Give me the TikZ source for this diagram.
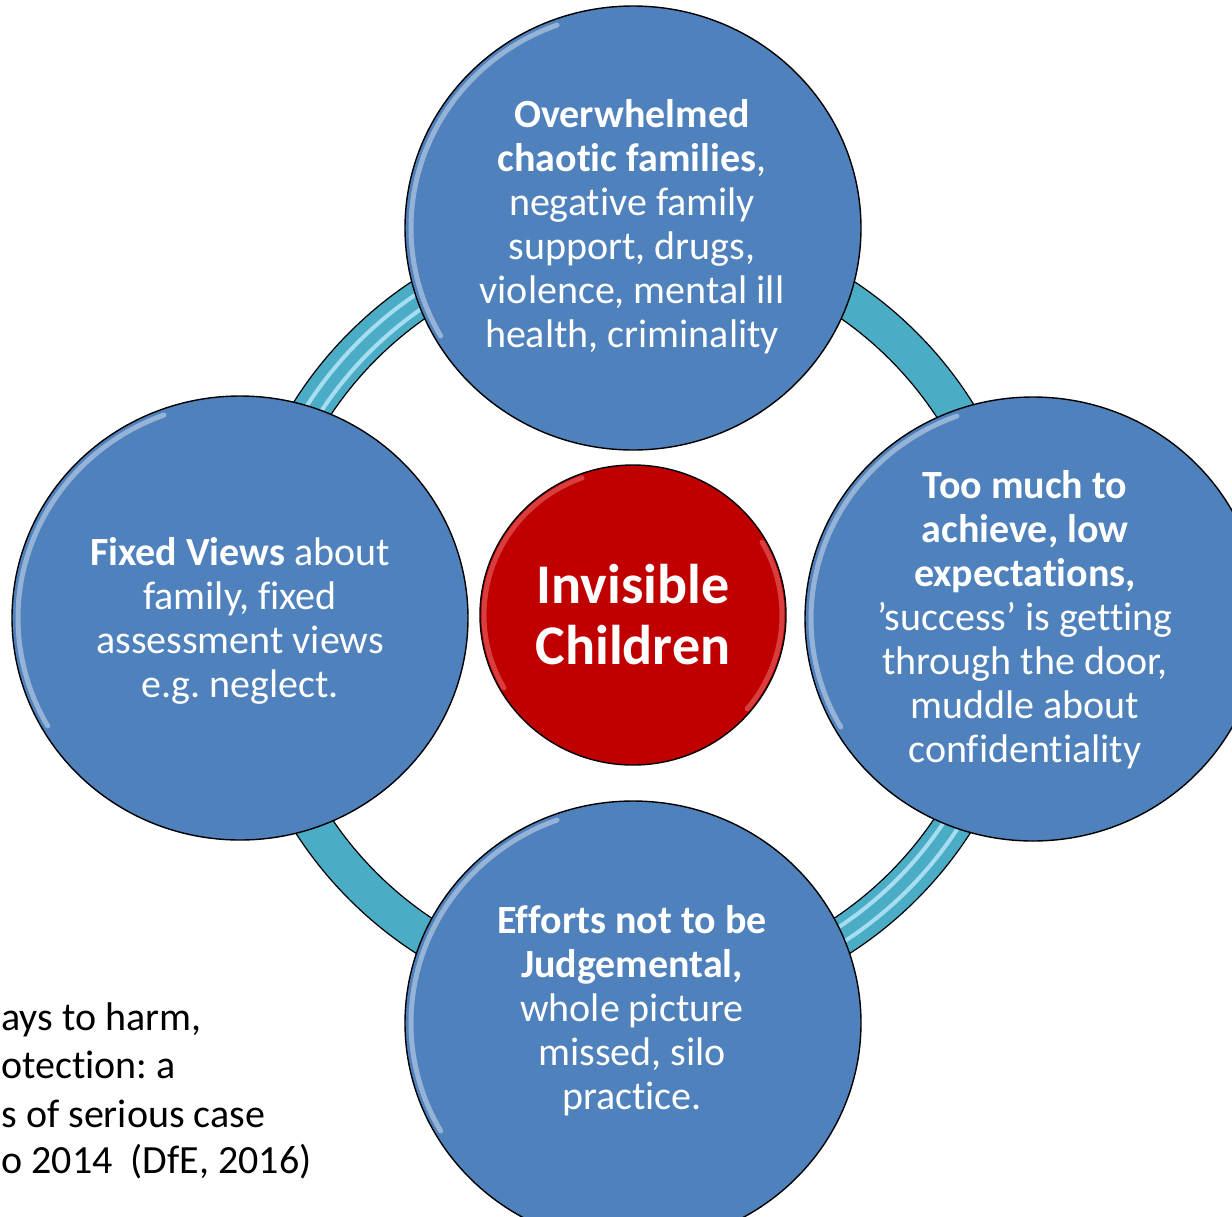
\documentclass[tikz,border=0pt]{standalone}
\usepackage{fontspec}
\setmainfont{Carlito}[Ligatures=CommonOff]
\usetikzlibrary{shapes.geometric}
\definecolor{bubbleblue}{HTML}{4F81BD}
\definecolor{ringteal}{HTML}{4BACC6}
\definecolor{corered}{HTML}{C00000}
\frenchspacing

\begin{document}
\begin{tikzpicture}[x=0.5pt,y=-0.5pt,
		bubble/.style={ellipse,draw=black,line width=0.7pt,fill=bubbleblue,
			minimum width=228pt,minimum height=222pt,inner sep=0pt},
		core/.style={ellipse,draw=black,line width=0.7pt,fill=corered,
			minimum width=153pt,minimum height=150pt,inner sep=0pt},
		bubbletext/.style={text=white,align=center,inner sep=0pt,anchor=north,
			font=\fontsize{20}{22}\selectfont},
		ring/.style={fill=ringteal,draw=black,line width=0.6pt,even odd rule},
		ringshine/.style={draw=cyan!25!white,line width=2pt,opacity=0.8},
		gloss/.style={draw=white,line width=2.5pt,opacity=0.4,line cap=round},
		source/.style={anchor=base west,inner sep=0pt,font=\fontsize{20}{24}\selectfont}]
	\useasboundingbox (0,0) rectangle (1232,1216);
	\clip (0,0) rectangle (1232,1216);
	\fill[white] (0,0) rectangle (1232,1216);
	
	% ring behind the bubbles
	\coordinate (hub) at (633,616);
	\draw[ring] (hub) circle[radius=401] (hub) circle[radius=363];
	\foreach \r in {373, 388}{
		\draw[ringshine] (hub) ++(195:\r) arc[start angle=195,end angle=255,radius=\r];
		\draw[ringshine] (hub) ++(15:\r) arc[start angle=15,end angle=75,radius=\r];
	}
	
	% bubbles
	\node[bubble] (overwhelmed) at (633,228){};
	\node[bubble] (fixedviews) at (240,618){};
	\node[bubble] (toomuch) at (1033,619){};
	\node[bubble] (efforts) at (633,1023){};
	\node[core] (invisible) at (633,615){};
	
	\foreach \n in {overwhelmed, fixedviews, toomuch, efforts}{
		\draw[gloss,shift={(\n.center)}] (150:222 and 216) arc[start angle=150,end angle=250,x radius=222,y radius=216];
	}
	\draw[gloss,draw=red!40!white,shift={(invisible.center)}] (150:149 and 146) arc[start angle=150,end angle=250,x radius=149,y radius=146];
	\draw[gloss,draw=red!40!white,shift={(invisible.center)}] (-30:149 and 146) arc[start angle=-30,end angle=40,x radius=149,y radius=146];
	
	% texts
	\node[bubbletext] (overwhelmedtext) at (632,99){\textbf{Overwhelmed}\\\textbf{chaotic families},\\negative family\\support, drugs,\\violence, mental ill\\health, criminality};
	\node[bubbletext] (fixedviewstext) at (240,537){\textbf{Fixed Views} about\\family, fixed\\assessment views\\e.g. neglect.};
	\node[bubbletext] (toomuchtext) at (1025,470){\textbf{Too much to}\\\textbf{achieve, low}\\\textbf{expectations,}\\’success’ is getting\\through the door,\\muddle about\\confidentiality};
	\node[bubbletext] (effortstext) at (632,905){\textbf{Efforts not to be}\\\textbf{Judgemental,}\\whole picture\\missed, silo\\practice.};
	\node[text=white,align=center,inner sep=0pt,font=\fontsize{28}{30.5}\selectfont\bfseries] (invisibletext) at (633,615){Invisible\\Children};
	
	% source, at the left edge
	\node[source] (src1) at (1,1030){ays to harm,};
	\node[source] (src2) at (1,1078){otection: a};
	\node[source] (src3) at (1,1127){s of serious case};
	\node[source] (src4) at (1,1173){o 2014~~(DfE, 2016)};
\end{tikzpicture}
\end{document}
